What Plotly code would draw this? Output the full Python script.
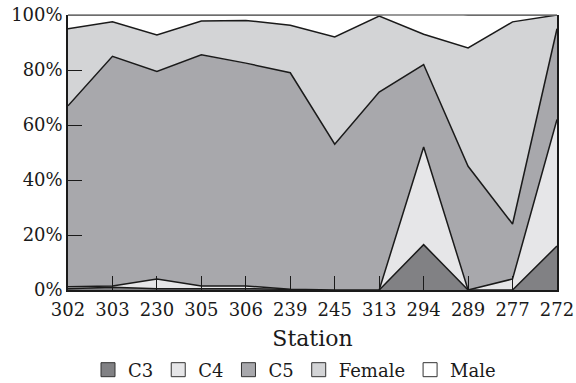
import plotly.graph_objects as go

stations = ["302", "303", "230", "305", "306", "239", "245", "313", "294", "289", "277", "272"]
c3 = [0.5, 1.0, 0.5, 0.5, 0.5, 0.2, 0, 0, 16.5, 0, 0, 16]
c4 = [0.7, 0.5, 3.5, 1.0, 1.0, 0.1, 0, 0, 35.5, 0, 4, 46]
c5 = [65.8, 83.5, 75.5, 84, 81, 78.7, 53, 72, 30, 45, 20, 33]
female = [28, 12.5, 13.2, 12.3, 15.5, 17.3, 39, 27.6, 11, 43, 73.5, 5]
male = [5, 2.5, 7.3, 2.2, 2, 3.7, 8, 0.4, 9.5, 12, 2.5, 0]
yticks = [0, 20, 40, 60, 80, 100]
ytick_labels = ["0%", "20%", "40%", "60%", "80%", "100%"]

series = [("C3", c3, "#818184"), ("C4", c4, "#e6e6e8"), ("C5", c5, "#a8a8ac"),
          ("Female", female, "#d3d4d6"), ("Male", male, "#ffffff")]

fig = go.Figure()
for name, vals, col in series:
    fig.add_trace(go.Scatter(x=stations, y=vals, name=name, stackgroup="one",
                             mode="lines", line=dict(color="#1a1a1a", width=1.5),
                             fillcolor=col, showlegend=False))
for name, vals, col in series:
    fig.add_trace(go.Scatter(x=[None], y=[None], name=name, mode="markers",
                             marker=dict(symbol="square", size=14, color=col,
                                         line=dict(color="#333333", width=1)),
                             showlegend=True))

font = dict(family="DejaVu Serif", size=18, color="#1a1a1a")
fig.update_layout(
    width=576, height=383, margin=dict(l=68, r=19, t=15, b=93),
    paper_bgcolor="white", plot_bgcolor="white", font=font,
    showlegend=True,
    legend=dict(orientation="h", x=88 / 576, xanchor="left", xref="container",
                y=0.034, yanchor="middle", yref="container",
                font=dict(family="DejaVu Serif", size=18), traceorder="normal",
                itemwidth=30, tracegroupgap=0),
    shapes=[dict(type="line", xref="paper", yref="paper", x0=0, x1=1, y0=1, y1=1,
                 line=dict(color="#777777", width=1.5))],
)
fig.update_xaxes(type="category", range=[0, 11], ticks="inside", ticklen=14,
                 tickcolor="#1a1a1a", showline=True, linecolor="#1a1a1a", linewidth=1.5,
                 showgrid=False, title=dict(text="Station", standoff=12),
                 ticklabelstandoff=3, tickfont=font, automargin=False)
fig.update_yaxes(range=[0, 100], tickvals=yticks, ticktext=ytick_labels,
                 ticks="inside", ticklen=14, tickcolor="#1a1a1a", showline=True,
                 linecolor="#1a1a1a", linewidth=1.5, mirror=True, showgrid=False,
                 zeroline=False, tickfont=font, automargin=False)

fig.write_html("out.html")
